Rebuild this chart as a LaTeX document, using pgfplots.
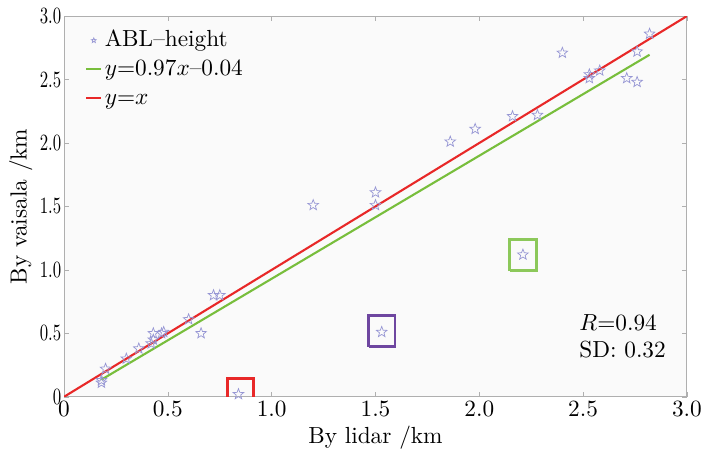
\documentclass[border=0pt]{standalone}
\usepackage{pgfplots}
\pgfplotsset{compat=1.18}
\usetikzlibrary{plotmarks}
\definecolor{starc}{RGB}{150,150,212}
\definecolor{redl}{RGB}{232,40,40}
\definecolor{greenl}{RGB}{120,190,60}
\definecolor{greenb}{RGB}{140,200,90}
\definecolor{purpb}{RGB}{110,70,160}
\definecolor{framec}{RGB}{175,175,175}
\pgfdeclareplotmark{ostar}{%
  \pgfpathmoveto{\pgfpointpolar{90}{\pgfplotmarksize}}%
  \pgfpathlineto{\pgfpointpolar{126}{0.42\pgfplotmarksize}}%
  \pgfpathlineto{\pgfpointpolar{162}{\pgfplotmarksize}}%
  \pgfpathlineto{\pgfpointpolar{198}{0.42\pgfplotmarksize}}%
  \pgfpathlineto{\pgfpointpolar{234}{\pgfplotmarksize}}%
  \pgfpathlineto{\pgfpointpolar{270}{0.42\pgfplotmarksize}}%
  \pgfpathlineto{\pgfpointpolar{306}{\pgfplotmarksize}}%
  \pgfpathlineto{\pgfpointpolar{342}{0.42\pgfplotmarksize}}%
  \pgfpathlineto{\pgfpointpolar{18}{\pgfplotmarksize}}%
  \pgfpathlineto{\pgfpointpolar{54}{0.42\pgfplotmarksize}}%
  \pgfpathclose
  \pgfusepathqstroke}
\pgfplotsset{shortline/.style={legend image code/.code={\draw[#1] (0pt,0pt) -- (6.5pt,0pt);}},
  starimg/.style={legend image code/.code={\path (0pt,0pt) (6.5pt,0pt); \draw[#1, mark size=1.1pt] plot coordinates {(3.25pt,0pt)};}}}
\begin{document}
\begin{tikzpicture}
\begin{axis}[
  name=ax,
  scale only axis,
  width=267.5pt, height=163.5pt,
  xmin=0, xmax=3, ymin=0, ymax=3,
  xtick={0,0.5,1,1.5,2,2.5,3},
  xticklabels={0,0.5,1.0,1.5,2.0,2.5,3.0},
  ytick={0,0.5,1,1.5,2,2.5,3},
  yticklabels={0,0.5,1.0,1.5,2.0,2.5,3.0},
  xticklabel style={inner sep=1.5pt},
  yticklabel style={inner sep=1.5pt, xscale=0.72},
  tick align=inside,
  major tick length=2pt,
  tick style={framec},
  axis line style={framec},
  xlabel={By lidar /km},
  ylabel={By vaisala /km},
  xlabel style={yshift=1pt},
  ylabel style={yshift=-1.5pt},
  axis background/.style={fill=black!2},
  clip=true,
  legend style={at={(0.0295,0.977)}, anchor=north west, draw=none, fill=none,
    row sep=1.4pt, inner sep=1pt,
    nodes={inner sep=1pt, text height=7pt, text depth=2pt}},
  legend cell align=left,
]
\addplot[only marks, mark=ostar, mark size=2.4pt, color=starc, mark options={line width=0.3pt},
  starimg] coordinates {
(0.18,0.11) (0.18,0.13) (0.20,0.22) (0.30,0.30) (0.36,0.38)
(0.42,0.42) (0.43,0.45) (0.43,0.50) (0.47,0.50) (0.48,0.51)
(0.60,0.61) (0.66,0.50) (0.72,0.80) (0.75,0.80) (0.84,0.02)
(1.20,1.51) (1.50,1.61) (1.50,1.51) (1.53,0.51)
(1.86,2.01) (1.98,2.11) (2.16,2.21) (2.28,2.22) (2.21,1.12)
(2.40,2.71) (2.53,2.51) (2.53,2.54) (2.58,2.57) (2.71,2.51)
(2.76,2.48) (2.76,2.72) (2.82,2.86)
};
\addlegendentry{ABL--height}
\addplot[greenl, line width=0.9pt, forget plot] coordinates {(0.18,0.135) (2.82,2.695)};
\addplot[redl, line width=0.9pt, forget plot] coordinates {(0,0) (3,3)};
\addlegendimage{greenl, line width=0.9pt, shortline}
\addlegendentry{$y$=0.97$x$--0.04}
\addlegendimage{redl, line width=0.9pt, shortline}
\addlegendentry{$y$=$x$}
% highlight boxes
\addplot[redl, line width=1.2pt, forget plot] coordinates {(0.786,-0.05) (0.786,0.147) (0.912,0.147) (0.912,-0.05)};
\addplot[purpb, line width=1.2pt, forget plot] coordinates {(1.468,0.394) (1.468,0.638) (1.594,0.638) (1.594,0.394) (1.468,0.394)};
\addplot[greenb, line width=1.2pt, forget plot] coordinates {(2.146,0.994) (2.146,1.242) (2.274,1.242) (2.274,0.994) (2.146,0.994)};
\node[anchor=west, align=left, inner sep=0pt] at (axis cs:2.48,0.585) {$R$=0.94};
\node[anchor=west, align=left, inner sep=0pt] at (axis cs:2.48,0.37) {SD: 0.32};
\end{axis}
\pgfresetboundingbox
\path ([shift={(-27.5pt,-23.3pt)}]ax.south west) rectangle ([shift={(6.9pt,6.9pt)}]ax.north east);
\end{tikzpicture}
\end{document}
